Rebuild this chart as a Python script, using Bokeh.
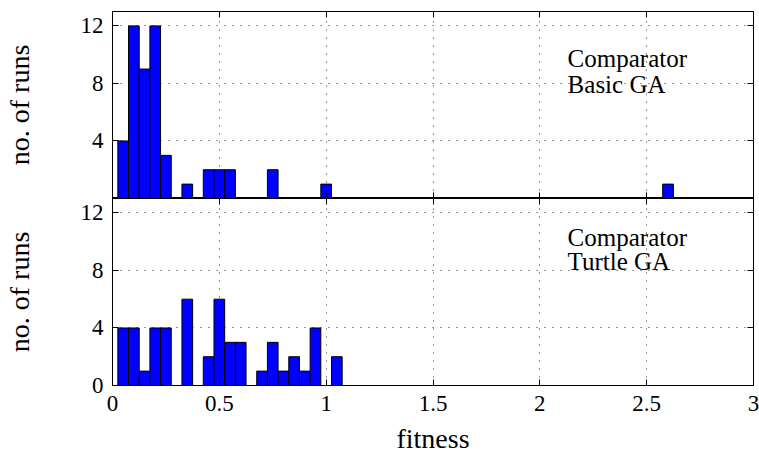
from bokeh.plotting import figure
from bokeh.layouts import column
from bokeh.models import FixedTicker, LinearAxis, Range1d, ColumnDataSource
from bokeh.core.properties import value
from bokeh.embed import file_html
from bokeh.resources import INLINE

# ---- data ----
basic_fitness = [0.05, 0.10, 0.15, 0.20, 0.25, 0.35, 0.45, 0.50, 0.55, 0.75, 1.00, 2.60]
basic_runs = [4, 12, 9, 12, 3, 1, 2, 2, 2, 2, 1, 1]

turtle_fitness = [0.05, 0.10, 0.15, 0.20, 0.25, 0.35, 0.45, 0.50, 0.55, 0.60,
                  0.70, 0.75, 0.80, 0.85, 0.90, 0.95, 1.05]
turtle_runs = [4, 4, 1, 4, 4, 6, 2, 6, 3, 3, 1, 3, 1, 2, 1, 4, 2]

bin_width = 0.05
x_ticks = [0, 0.5, 1, 1.5, 2, 2.5, 3]
x_tick_labels = ["0", "0.5", "1", "1.5", "2", "2.5", "3"]
y_ticks_top = [4, 8, 12]
y_ticks_bottom = [0, 4, 8, 12]
labels_top = ["Comparator", "Basic GA"]
labels_bottom = ["Comparator", "Turtle GA"]

FONT = "Liberation Serif"
overrides = {(int(t) if float(t).is_integer() else t): l for t, l in zip(x_ticks, x_tick_labels)}


def style_axis(ax, ticks):
    ax.ticker = FixedTicker(ticks=ticks)
    ax.major_tick_in = 6
    ax.major_tick_out = 0
    ax.minor_tick_in = 0
    ax.minor_tick_out = 0
    ax.axis_line_color = "black"
    ax.axis_line_width = 1
    ax.major_tick_line_color = "black"
    ax.major_label_text_font = FONT
    ax.major_label_text_font_style = "normal"
    ax.major_label_text_color = "black"
    ax.axis_label_text_font = FONT
    ax.axis_label_text_font_style = "normal"
    ax.axis_label_text_color = "black"


def hidden_axis(p, loc, ticks):
    ax = LinearAxis()
    style_axis(ax, ticks)
    ax.major_label_text_font_size = "0px"
    ax.major_label_standoff = 0
    ax.major_label_text_color = None
    p.add_layout(ax, loc)
    return ax


def make_panel(xs, ys, yticks, labels, text_x, text_y, show_x):
    p = figure(output_backend="svg", toolbar_location=None,
               frame_width=641, frame_height=187,
               x_range=Range1d(0, 3), y_range=Range1d(0, 13),
               min_border_left=103, min_border_right=6,
               min_border_top=11 if not show_x else 0,
               min_border_bottom=0,
               x_axis_location=None, y_axis_location=None)
    p.outline_line_color = "black"
    p.outline_line_width = 1
    p.background_fill_color = "white"
    p.border_fill_color = "white"

    # left axis
    ly = LinearAxis()
    style_axis(ly, yticks)
    ly.major_label_text_font_size = "23px"
    ly.major_label_standoff = 9
    ly.axis_label = "no. of runs"
    ly.axis_label_text_font_size = "28px"
    ly.axis_label_standoff = 43
    p.add_layout(ly, "left")

    # bottom axis
    if show_x:
        bx = LinearAxis()
        style_axis(bx, x_ticks)
        bx.major_label_overrides = overrides
        bx.major_label_text_font_size = "23px"
        bx.major_label_standoff = 10
        bx.axis_label = "fitness"
        bx.axis_label_text_font_size = "28px"
        bx.axis_label_standoff = 9
        p.add_layout(bx, "below")
    else:
        hidden_axis(p, "below", x_ticks)
    hidden_axis(p, "above", x_ticks)
    hidden_axis(p, "right", yticks)

    # grid
    p.xgrid.ticker = FixedTicker(ticks=x_ticks)
    p.ygrid.ticker = FixedTicker(ticks=yticks)
    for g in (p.xgrid, p.ygrid):
        g.grid_line_color = "#333333"
        g.grid_line_dash = "1 7"
        g.grid_line_width = 1

    src = ColumnDataSource(dict(x=xs, top=ys))
    p.vbar(x="x", top="top", bottom=0, width=bin_width, source=src,
           fill_color="#0000ff", line_color="black", line_width=1)

    p.text(x=[text_x, text_x], y=text_y, text=labels,
           text_font=value(FONT), text_font_size="25px", text_font_style="normal",
           text_color="black", text_baseline="alphabetic", text_align="left")
    return p


p1 = make_panel(basic_fitness, basic_runs, y_ticks_top, labels_top,
                2.13, [9.7, 7.95], False)
p2 = make_panel(turtle_fitness, turtle_runs, y_ticks_bottom, labels_bottom,
                2.13, [10.3, 8.6], True)

layout = column(p1, p2, spacing=0)
open("out.html", "w").write(file_html(layout, INLINE))
